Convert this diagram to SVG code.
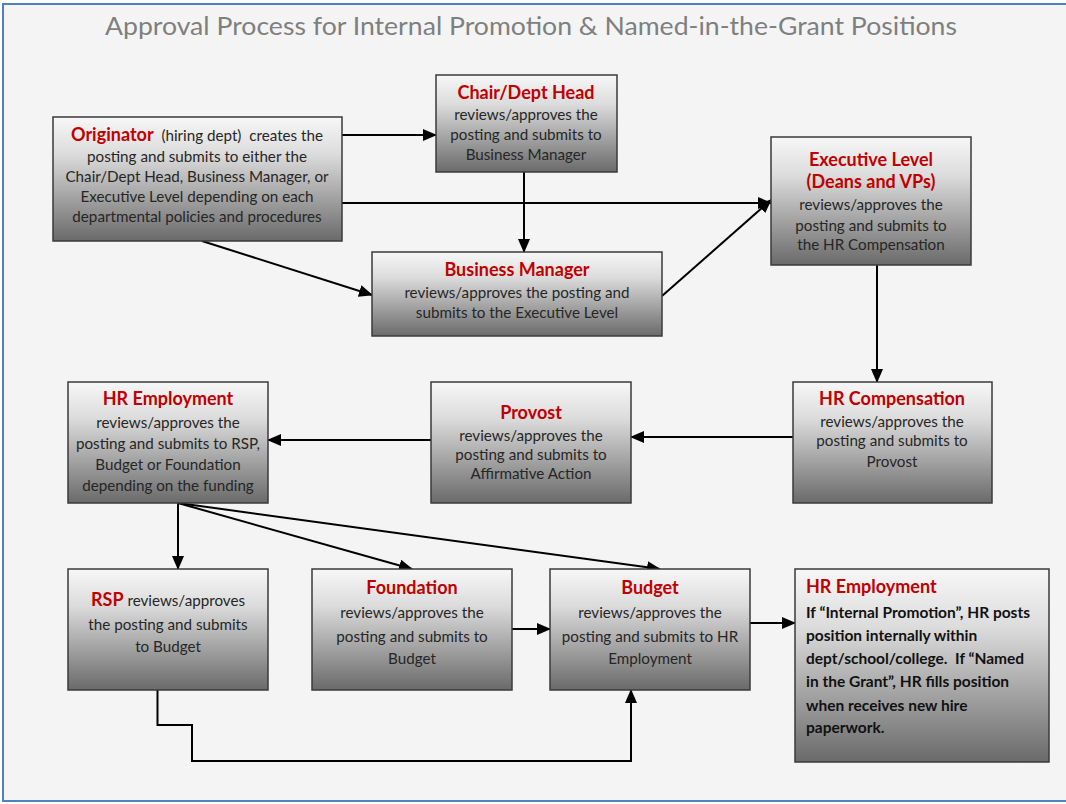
<svg xmlns="http://www.w3.org/2000/svg" width="1066" height="804" viewBox="0 0 1066 804">
<defs>
<linearGradient id="g" x1="0" y1="0" x2="0" y2="1">
<stop offset="0" stop-color="#f7f7f7"/>
<stop offset="0.3" stop-color="#dcdcdc"/>
<stop offset="1" stop-color="#6a6a6a"/>
</linearGradient>
<marker id="ah" markerUnits="userSpaceOnUse" markerWidth="14" markerHeight="12" refX="13" refY="6" orient="auto">
<path d="M0,0 L14,6 L0,12 z" fill="#000"/>
</marker>
<style>
.box{fill:url(#g);stroke:#3a3a3a;stroke-width:1.5}
.t{font-family:Lato,"Open Sans","Liberation Sans",sans-serif;font-size:15.2px;fill:#262626;text-anchor:middle;white-space:pre}
.h{font-family:Lato,"Open Sans","Liberation Sans",sans-serif;font-size:18px;font-weight:bold;fill:#c00000;text-anchor:middle}
.r{fill:#c00000;font-weight:bold;font-size:18px}
.b{font-family:Lato,"Open Sans","Liberation Sans",sans-serif;font-size:15.5px;font-weight:bold;fill:#111;white-space:pre}
.c{fill:none;stroke:#000;stroke-width:2}
</style>
</defs>
<rect x="0" y="0" width="1066" height="804" fill="#ffffff"/>
<rect x="3" y="4" width="1070" height="797" fill="#f4f4f4" stroke="#4f81bd" stroke-width="2"/>
<text x="531" y="35" font-family="Lato,'Open Sans','Liberation Sans',sans-serif" font-size="25" fill="#7f7f7f" text-anchor="middle" textLength="852" lengthAdjust="spacingAndGlyphs">Approval Process for Internal Promotion &amp; Named-in-the-Grant Positions</text>

<g id="connectors">
<line class="c" x1="342" y1="135" x2="436" y2="135" marker-end="url(#ah)"/>
<line class="c" x1="342" y1="203" x2="771" y2="203" marker-end="url(#ah)"/>
<line class="c" x1="202" y1="241" x2="372" y2="295" marker-end="url(#ah)"/>
<line class="c" x1="524" y1="172" x2="524" y2="252" marker-end="url(#ah)"/>
<line class="c" x1="662" y1="296" x2="771" y2="200" marker-end="url(#ah)"/>
<line class="c" x1="877" y1="265" x2="877" y2="382" marker-end="url(#ah)"/>
<line class="c" x1="793" y1="437" x2="631" y2="437" marker-end="url(#ah)"/>
<line class="c" x1="431" y1="440" x2="268" y2="440" marker-end="url(#ah)"/>
<line class="c" x1="178" y1="503" x2="178" y2="569" marker-end="url(#ah)"/>
<line class="c" x1="178" y1="503" x2="412" y2="569" marker-end="url(#ah)"/>
<line class="c" x1="178" y1="503" x2="660" y2="569" marker-end="url(#ah)"/>
<line class="c" x1="512" y1="629" x2="550" y2="629" marker-end="url(#ah)"/>
<line class="c" x1="750" y1="623" x2="795" y2="623" marker-end="url(#ah)"/>
<polyline class="c" points="157.5,690 157.5,725 192,725 192,761 631,761 631,690" marker-end="url(#ah)"/>
</g>

<g id="originator">
<rect class="box" x="53" y="117" width="289" height="124"/>
<text class="t" x="197" y="141"><tspan class="r">Originator</tspan>  (hiring dept)  creates the</text>
<text class="t" x="197" y="162">posting and submits to either the</text>
<text class="t" x="197" y="182">Chair/Dept Head, Business Manager, or</text>
<text class="t" x="197" y="202">Executive Level depending on each</text>
<text class="t" x="197" y="222">departmental policies and procedures</text>
</g>

<g id="chair">
<rect class="box" x="436" y="75" width="181" height="97"/>
<text class="h" x="526" y="99">Chair/Dept Head</text>
<text class="t" x="526" y="120">reviews/approves the</text>
<text class="t" x="526" y="140">posting and submits to</text>
<text class="t" x="526" y="160">Business Manager</text>
</g>

<g id="executive">
<rect class="box" x="771" y="137" width="200" height="128"/>
<text class="h" x="871" y="166">Executive Level</text>
<text class="h" x="871" y="188">(Deans and VPs)</text>
<text class="t" x="871" y="210">reviews/approves the</text>
<text class="t" x="871" y="231">posting and submits to</text>
<text class="t" x="871" y="250">the HR Compensation</text>
</g>

<g id="business-manager">
<rect class="box" x="372" y="252" width="290" height="84"/>
<text class="h" x="517" y="276">Business Manager</text>
<text class="t" x="517" y="298">reviews/approves the posting and</text>
<text class="t" x="517" y="318">submits to the Executive Level</text>
</g>

<g id="hr-employment">
<rect class="box" x="68" y="382" width="200" height="121"/>
<text class="h" x="168" y="405">HR Employment</text>
<text class="t" x="168" y="428">reviews/approves the</text>
<text class="t" x="168" y="449">posting and submits to RSP,</text>
<text class="t" x="168" y="470">Budget or Foundation</text>
<text class="t" x="168" y="491">depending on the funding</text>
</g>

<g id="provost">
<rect class="box" x="431" y="382" width="200" height="121"/>
<text class="h" x="531" y="419">Provost</text>
<text class="t" x="531" y="441">reviews/approves the</text>
<text class="t" x="531" y="460">posting and submits to</text>
<text class="t" x="531" y="479">Affirmative Action</text>
</g>

<g id="hr-compensation">
<rect class="box" x="793" y="382" width="199" height="121"/>
<text class="h" x="892" y="405">HR Compensation</text>
<text class="t" x="892" y="427">reviews/approves the</text>
<text class="t" x="892" y="446">posting and submits to</text>
<text class="t" x="892" y="467">Provost</text>
</g>

<g id="rsp">
<rect class="box" x="68" y="569" width="200" height="121"/>
<text class="t" x="168" y="606"><tspan class="r">RSP</tspan> reviews/approves</text>
<text class="t" x="168" y="630">the posting and submits</text>
<text class="t" x="168" y="652">to Budget</text>
</g>

<g id="foundation">
<rect class="box" x="312" y="569" width="200" height="121"/>
<text class="h" x="412" y="594">Foundation</text>
<text class="t" x="412" y="618">reviews/approves the</text>
<text class="t" x="412" y="642">posting and submits to</text>
<text class="t" x="412" y="664">Budget</text>
</g>

<g id="budget">
<rect class="box" x="550" y="569" width="200" height="121"/>
<text class="h" x="650" y="594">Budget</text>
<text class="t" x="650" y="618">reviews/approves the</text>
<text class="t" x="650" y="642">posting and submits to HR</text>
<text class="t" x="650" y="664">Employment</text>
</g>

<g id="hr-employment-final">
<rect class="box" x="795" y="569" width="254" height="193"/>
<text class="h" x="806" y="593" style="text-anchor:start">HR Employment</text>
<text class="b" x="806" y="618">If “Internal Promotion”, HR posts</text>
<text class="b" x="806" y="641">position internally within</text>
<text class="b" x="806" y="664">dept/school/college.  If “Named</text>
<text class="b" x="806" y="687">in the Grant”, HR fills position</text>
<text class="b" x="806" y="711">when receives new hire</text>
<text class="b" x="806" y="733">paperwork.</text>
</g>
</svg>
